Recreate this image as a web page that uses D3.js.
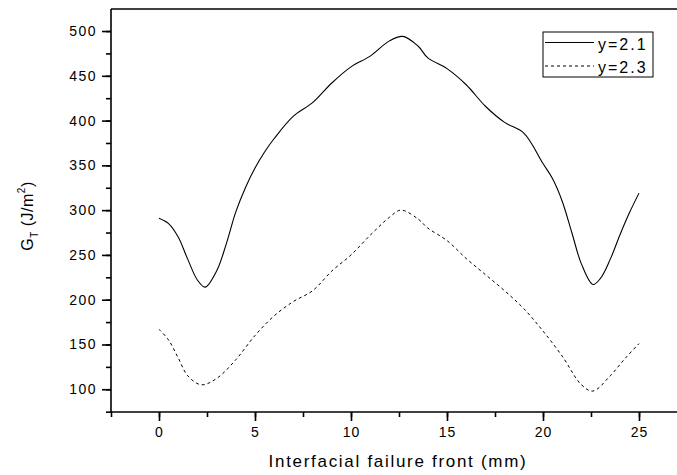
<!DOCTYPE html>
<html>
<head>
<meta charset="utf-8">
<script src="https://cdnjs.cloudflare.com/ajax/libs/d3/7.8.5/d3.min.js"></script>
<style>
body { margin: 0; background: #fff; }
text { font-family: Arial, "Liberation Sans", sans-serif; fill: #000; }
</style>
</head>
<body>
<div id="chart"></div>
<script>
// data
var xSolid = [0, 0.5, 1, 1.5, 2, 2.4, 3, 3.5, 4, 4.5, 5, 5.5, 6, 7, 8, 9, 10, 11, 12, 12.7, 13.5, 14, 15, 16, 17, 18, 19, 20, 20.5, 21, 21.5, 22, 22.6, 23, 23.5, 24, 24.5, 25];
var ySolid = [291, 285, 270, 245, 222, 214, 232, 262, 298, 325, 347, 365, 380, 405, 420, 442, 460, 472, 489, 494, 483, 470, 458, 440, 416, 398, 386, 352, 335, 310, 275, 240, 217, 224, 245, 272, 297, 319];
var xDash = [0, 0.5, 1, 1.5, 2.2, 3, 4, 5, 6, 7, 8, 9, 10, 11, 12, 12.6, 13.5, 14, 15, 16, 17, 18, 19, 20, 21, 22, 22.6, 23.5, 24.3, 25];
var yDash = [167, 155, 135, 115, 105, 112, 133, 160, 182, 198, 210, 232, 250, 272, 292, 300, 290, 280, 266, 246, 228, 210, 190, 165, 137, 105, 98, 115, 135, 151];
var seriesNames = ["y=2.1", "y=2.3"];
var xTicks = [0, 5, 10, 15, 20, 25];
var yTicks = [100, 150, 200, 250, 300, 350, 400, 450, 500];

var width = 677, height = 475;
var mLeft = 111, mTop = 9, mBottom = 412;

var svg = d3.select("#chart").append("svg")
    .attr("width", width)
    .attr("height", height);

var x = d3.scaleLinear().domain([-2.5, 28]).range([mLeft, mLeft + 30.5 * 19.2]);
var y = d3.scaleLinear().domain([74.6, 524.6]).range([mBottom, mTop]);

// minor ticks
svg.append("g")
  .attr("transform", "translate(0," + mBottom + ")")
  .call(d3.axisBottom(x).tickValues(d3.range(-2.5, 28, 2.5)).tickSize(5).tickFormat(""))
  .call(function(g) { g.select(".domain").remove(); });
svg.append("g")
  .attr("transform", "translate(" + mLeft + ",0)")
  .call(d3.axisLeft(y).tickValues(d3.range(75, 525, 25)).tickSize(5).tickFormat(""))
  .call(function(g) { g.select(".domain").remove(); });

// major ticks
var xAxis = svg.append("g")
  .attr("transform", "translate(0," + mBottom + ")")
  .call(d3.axisBottom(x).tickValues(xTicks).tickSize(9).tickPadding(6));
xAxis.select(".domain").remove();
xAxis.attr("font-size", 14).attr("font-family", null);
xAxis.selectAll("text").style("letter-spacing", "1px");

var yAxis = svg.append("g")
  .attr("transform", "translate(" + mLeft + ",0)")
  .call(d3.axisLeft(y).tickValues(yTicks).tickSize(9).tickPadding(5));
yAxis.select(".domain").remove();
yAxis.attr("font-size", 14).attr("font-family", null);
yAxis.selectAll("text").style("letter-spacing", "1.5px");

svg.selectAll(".tick line").attr("stroke", "#000").attr("stroke-width", 1.6);

// frame lines
svg.append("line").attr("x1", mLeft).attr("x2", width).attr("y1", mBottom).attr("y2", mBottom)
  .attr("stroke", "#000").attr("stroke-width", 1.6);
svg.append("line").attr("x1", mLeft).attr("x2", width).attr("y1", mTop).attr("y2", mTop)
  .attr("stroke", "#000").attr("stroke-width", 1.6);
svg.append("line").attr("x1", mLeft).attr("x2", mLeft).attr("y1", mTop).attr("y2", mBottom)
  .attr("stroke", "#000").attr("stroke-width", 1.6);

var line = d3.line()
  .x(function(d) { return x(d[0]); })
  .y(function(d) { return y(d[1]); })
  .curve(d3.curveCatmullRom.alpha(0.5));

svg.append("path")
  .datum(d3.zip(xSolid, ySolid))
  .attr("d", line)
  .attr("fill", "none")
  .attr("stroke", "#000")
  .attr("stroke-width", 1.1);

svg.append("path")
  .datum(d3.zip(xDash, yDash))
  .attr("d", line)
  .attr("fill", "none")
  .attr("stroke", "#000")
  .attr("stroke-width", 1)
  .attr("stroke-dasharray", "3,3");

// legend
var lg = svg.append("g");
lg.append("rect").attr("x", 543).attr("y", 32).attr("width", 110).attr("height", 45)
  .attr("fill", "#fff").attr("stroke", "#000").attr("stroke-width", 1);
seriesNames.forEach(function(name, i) {
  var ly = 42.5 + i * 23.5;
  lg.append("line").attr("x1", 545).attr("x2", 594).attr("y1", ly).attr("y2", ly)
    .attr("stroke", "#000").attr("stroke-width", 1)
    .attr("stroke-dasharray", i == 1 ? "3,3" : null);
  lg.append("text").attr("x", 598).attr("y", ly + 7)
    .style("font-size", "16px").style("letter-spacing", "2px").text(name);
});

// axis titles
svg.append("text")
  .attr("x", 398).attr("y", 467)
  .attr("text-anchor", "middle")
  .style("font-size", "17px")
  .style("letter-spacing", "1.7px")
  .text("Interfacial failure front (mm)");

var yt = svg.append("text")
  .attr("transform", "translate(33,216) rotate(-90)")
  .attr("text-anchor", "middle")
  .style("font-size", "16px")
  .style("letter-spacing", "0.5px");
yt.append("tspan").text("G");
yt.append("tspan").attr("dy", 5).style("font-size", "10px").text("T");
yt.append("tspan").attr("dy", -5).text(" (J/m");
yt.append("tspan").attr("dy", -8).style("font-size", "10px").text("2");
yt.append("tspan").attr("dy", 8).text(")");
</script>
</body>
</html>
